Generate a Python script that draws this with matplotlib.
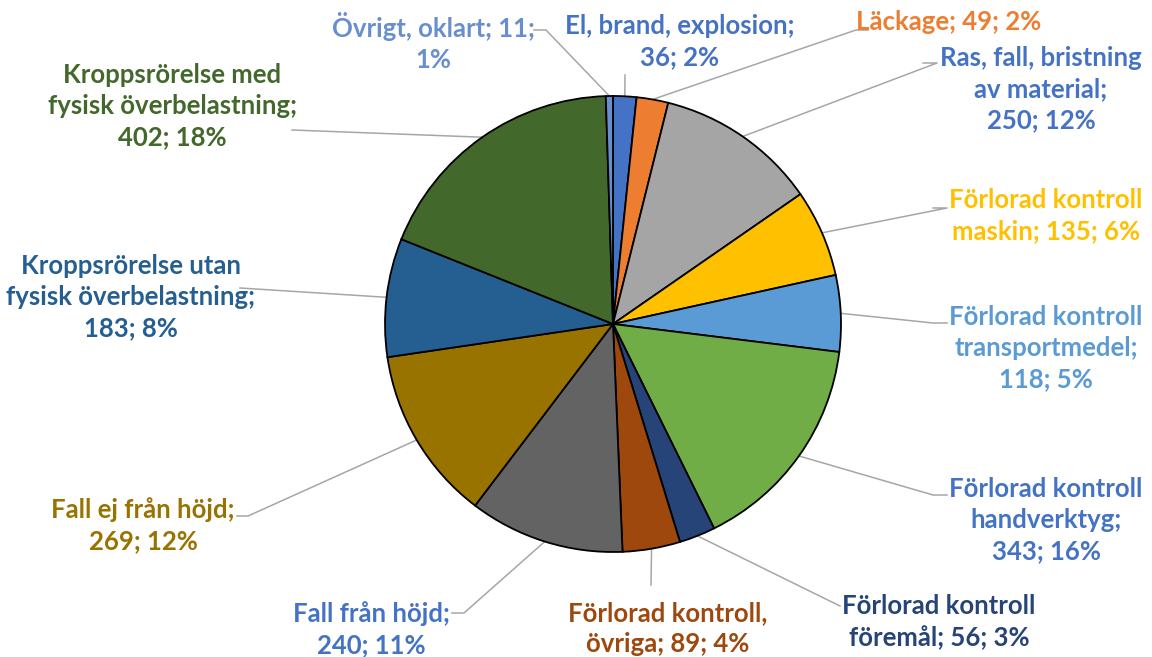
import numpy as np
import matplotlib.pyplot as plt

# data, clockwise from 12 o'clock
labels = ["El, brand, explosion", "Läckage", "Ras, fall, bristning av material",
          "Förlorad kontroll maskin", "Förlorad kontroll transportmedel",
          "Förlorad kontroll handverktyg", "Förlorad kontroll föremål",
          "Förlorad kontroll, övriga", "Fall från höjd", "Fall ej från höjd",
          "Kroppsrörelse utan fysisk överbelastning",
          "Kroppsrörelse med fysisk överbelastning", "Övrigt, oklart"]
counts = [36, 49, 250, 135, 118, 343, 56, 89, 240, 269, 183, 402, 11]
percents = [2, 2, 12, 6, 5, 16, 3, 4, 11, 12, 8, 18, 1]

# how the label text is broken into lines
label_text = [
    "El, brand, explosion;\n{c}; {p}%",
    "Läckage; {c}; {p}%",
    "Ras, fall, bristning\nav material;\n{c}; {p}%",
    "Förlorad kontroll\nmaskin; {c}; {p}%",
    "Förlorad kontroll\ntransportmedel;\n{c}; {p}%",
    "Förlorad kontroll\nhandverktyg;\n{c}; {p}%",
    "Förlorad kontroll\nföremål; {c}; {p}%",
    "Förlorad kontroll,\növriga; {c}; {p}%",
    "Fall från höjd;\n{c}; {p}%",
    "Fall ej från höjd;\n{c}; {p}%",
    "Kroppsrörelse utan\nfysisk överbelastning;\n{c}; {p}%",
    "Kroppsrörelse med\nfysisk överbelastning;\n{c}; {p}%",
    "Övrigt, oklart; {c};\n{p}%",
]

slice_colors = ["#4472C4", "#ED7D31", "#A5A5A5", "#FFC000", "#5B9BD5", "#70AD47",
                "#264478", "#9E480E", "#636363", "#997300", "#255E91", "#43682B",
                "#698ED0"]
text_colors = ["#4472C4", "#ED7D31", "#4472C4", "#FFC000", "#5B9BD5", "#4472C4",
               "#264478", "#9E480E", "#4472C4", "#997300", "#255E91", "#43682B",
               "#698ED0"]

# layout in pixel coords (y measured from top)
W, H = 1152, 657
cx, cy, R = 613, 324, 228
text_pos = [(680, 42), (949, 22), (1041, 89), (1046, 216), (1046, 348), (1046, 520),
            (939, 622), (668, 629), (371, 629), (143, 525), (131, 297), (172, 106),
            (433, 42)]
# leader line: start point near text, then optional elbow
line_start = [(625, 75), (868, 30), (923, 63), (933, 208), (947, 323), (947, 495),
              (840, 606), (651, 585), (452, 613), (237, 516), (240, 288), (292, 130),
              (534, 30)]
elbow = [None, (856, 30), (937, 63), (947, 208), (933, 323), (933, 495),
         None, None, (464, 613), (248, 516), None, None, (546, 30)]

plt.rcParams['font.family'] = ['Lato', 'DejaVu Sans']

fig = plt.figure(figsize=(W / 100, H / 100), dpi=100)
ax = fig.add_axes([0, 0, 1, 1])

ax.pie(counts, colors=slice_colors, startangle=90, counterclock=False,
       center=(cx, H - cy), radius=R, frame=True,
       wedgeprops=dict(edgecolor="black", linewidth=1.3))
ax.set_xlim(0, W)
ax.set_ylim(0, H)
ax.axis("off")

total = sum(counts)
cum = np.cumsum([0] + counts)
for i in range(len(counts)):
    mid = (cum[i] + counts[i] / 2) / total * 2 * np.pi
    ex = cx + R * np.sin(mid)
    ey = cy - R * np.cos(mid)
    pts = [line_start[i]]
    if elbow[i] is not None:
        pts.append(elbow[i])
    pts.append((ex, ey))
    xs = [p[0] for p in pts]
    ys = [H - p[1] for p in pts]
    ax.plot(xs, ys, color="#A6A6A6", lw=1.1, zorder=0)
    tx, ty = text_pos[i]
    ax.text(tx, H - ty, label_text[i].format(c=counts[i], p=percents[i]),
            ha="center", va="center", multialignment="center",
            fontsize=18.5, fontweight="bold", color=text_colors[i], linespacing=1.35)

fig.savefig("out.png", dpi=100)
